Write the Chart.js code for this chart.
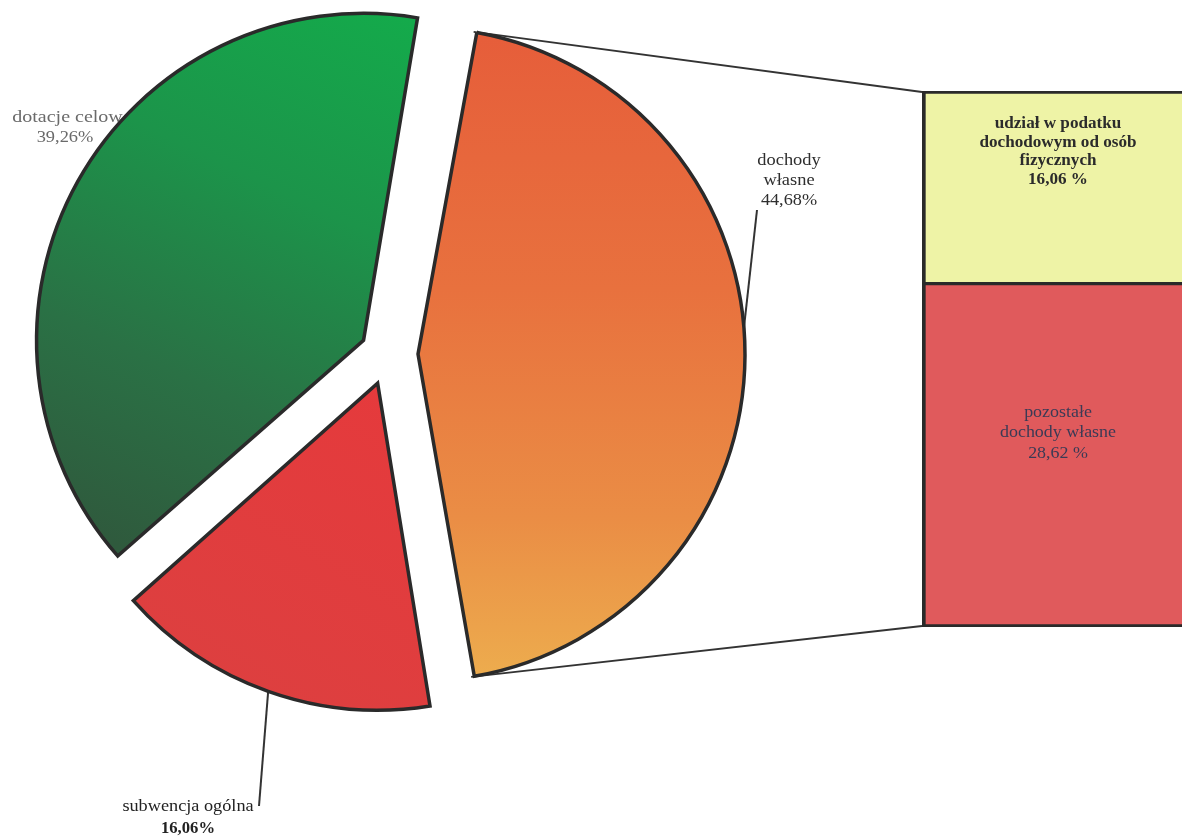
<!DOCTYPE html>
<html>
<head>
<meta charset="utf-8">
<script src="https://cdn.jsdelivr.net/npm/chart.js@4/dist/chart.umd.min.js"></script>
<style>
  html, body { margin: 0; padding: 0; background: #ffffff; overflow: hidden; }
  #wrap { position: relative; width: 1182px; height: 840px; overflow: hidden; background: #ffffff; }
  .layer { position: absolute; left: 0; top: 0; height: 840px; }
</style>
</head>
<body>
<div id="wrap">
  <div class="layer" style="width:1200px"><canvas id="barCanvas"></canvas></div>
  <div class="layer" style="width:1182px"><canvas id="pieCanvas"></canvas></div>
</div>
<script>
// ---------- data ----------
const pieCategories = ['dochody własne', 'subwencja ogólna', 'dotacje celowe'];
const pieValues = [44.68, 16.06, 39.26];
const pieValueTexts = ['44,68%', '16,06%', '39,26%'];
const pieLabelLines = [['dochody', 'własne'], ['subwencja ogólna'], ['dotacje celowe']];

const barCategories = ['pozostałe dochody własne', 'udział w podatku dochodowym od osób fizycznych'];
const barValues = [28.62, 16.06];
const barValueTexts = ['28,62 %', '16,06 %'];
const barLabelLines = [['pozostałe', 'dochody własne'], ['udział w podatku', 'dochodowym od osób', 'fizycznych']];

// ---------- styles ----------
const BORDER = '#2a2a2a';
const SERIF = '"Liberation Serif", "DejaVu Serif", serif';
const PIE_RADIUS = 327;

function sliceFill(context) {
  const chart = context.chart;
  const ca = chart.chartArea;
  const i = context.dataIndex;
  const flat = ['#e8763f', '#e13c3c', '#21864a'][i];
  if (!ca) return flat;
  const cx = (ca.left + ca.right) / 2, cy = (ca.top + ca.bottom) / 2, r = PIE_RADIUS;
  const c = chart.ctx;
  let g;
  if (i === 0) {
    g = c.createLinearGradient(cx, cy - r, cx, cy + r);
    g.addColorStop(0, '#e65d3a');
    g.addColorStop(0.4, '#e8713e');
    g.addColorStop(0.75, '#ea8d45');
    g.addColorStop(1, '#edad4e');
    return g;
  }
  if (i === 1) {
    g = c.createLinearGradient(cx, cy, cx - r * 0.6, cy + r);
    g.addColorStop(0, '#e53a3c');
    g.addColorStop(1, '#dc4040');
    return g;
  }
  g = c.createLinearGradient(cx + r * 0.1, cy - r, cx - r * 0.7, cy + r * 0.65);
  g.addColorStop(0, '#14aa4b');
  g.addColorStop(0.35, '#1c944a');
  g.addColorStop(0.7, '#2a7145');
  g.addColorStop(1, '#2f5a3d');
  return g;
}

// keep every exploded slice at the same radius (Chart.js grows offset slices)
function radiusGrowth(el) {
  const off = (el.options.offset || 0) / 4;
  return off * (1 - Math.sin(Math.min(Math.PI, el.circumference)));
}
const radiusFix = {
  id: 'radiusFix',
  afterDatasetsUpdate(chart) {
    chart.getDatasetMeta(0).data.forEach(el => {
      el.outerRadius = el.outerRadius - radiusGrowth(el);
    });
  }
};

// point on the drawn outer arc of a slice, frac 0..1 along the slice
function arcPoint(el, frac) {
  const half = (el.startAngle + el.endAngle) / 2;
  const t = (el.options.offset || 0) / 4;
  const r = el.outerRadius + radiusGrowth(el);
  const a = el.startAngle + (el.endAngle - el.startAngle) * frac;
  return {
    x: el.x + Math.cos(half) * t + Math.cos(a) * r,
    y: el.y + Math.sin(half) * t + Math.sin(a) * r
  };
}

function wideText(c, text, x, y, sx) {
  c.save();
  c.translate(x, y);
  c.scale(sx, 1);
  c.fillText(text, 0, 0);
  c.restore();
}

// ---------- bar (second level) ----------
const barTotal = barValues.reduce((a, b) => a + b, 0);
const barFills = ['#e05a5c', '#eef3a6'];
const barChart = new Chart(document.getElementById('barCanvas'), {
  type: 'bar',
  data: {
    labels: [''],
    datasets: barCategories.map((name, i) => ({
      label: name,
      data: [barValues[i]],
      backgroundColor: barFills[i],
      borderColor: BORDER,
      borderWidth: i === 0 ? { top: 2, left: 4, bottom: 3, right: 4 } : { top: 3, left: 4, bottom: 2, right: 4 },
      borderSkipped: false,
      barPercentage: 1,
      categoryPercentage: 1
    }))
  },
  options: {
    responsive: true,
    maintainAspectRatio: false,
    animation: false,
    layout: { padding: { left: 922, right: 6, top: 91, bottom: 213 } },
    scales: {
      x: { stacked: true, display: false },
      y: { stacked: true, display: false, min: 0, max: barTotal }
    },
    plugins: { legend: { display: false }, tooltip: { enabled: false } }
  },
  plugins: [{
    id: 'barText',
    afterDatasetsDraw(chart) {
      const c = chart.ctx;
      c.save();
      c.textAlign = 'center';
      c.textBaseline = 'middle';
      // top segment
      const topEl = chart.getDatasetMeta(1).data[0];
      c.font = 'bold 16px ' + SERIF;
      c.fillStyle = '#2b2b2b';
      const topLines = barLabelLines[1].concat([barValueTexts[1]]);
      topLines.forEach((t, k) => wideText(c, t, topEl.x, topEl.y + 33 + k * 18.5, 1.07));
      // bottom segment
      const botEl = chart.getDatasetMeta(0).data[0];
      c.font = '16px ' + SERIF;
      c.fillStyle = '#3b3a55';
      const botLines = barLabelLines[0].concat([barValueTexts[0]]);
      botLines.forEach((t, k) => wideText(c, t, botEl.x, botEl.y + 129 + k * 20.5, 1.12));
      c.restore();
    }
  }]
});

// ---------- pie ----------
const pieDecor = {
  id: 'pieDecor',
  beforeDatasetsDraw(chart) {
    const c = chart.ctx;
    const arcs = chart.getDatasetMeta(0).data;
    c.save();
    c.textAlign = 'center';
    c.textBaseline = 'middle';

    // dotacje celowe (partly hidden by its slice)
    c.font = '16px ' + SERIF;
    c.fillStyle = '#6a6a6a';
    wideText(c, pieLabelLines[2][0], 72, 118, 1.25);
    wideText(c, pieValueTexts[2], 65, 138, 1.15);

    // dochody własne
    c.fillStyle = '#2e2e2e';
    wideText(c, pieLabelLines[0][0], 789, 161, 1.15);
    wideText(c, pieLabelLines[0][1], 789, 181, 1.15);
    wideText(c, pieValueTexts[0], 789, 201, 1.14);

    // subwencja ogólna
    c.fillStyle = '#222222';
    wideText(c, pieLabelLines[1][0], 188, 807, 1.14);
    c.font = 'bold 16px ' + SERIF;
    wideText(c, pieValueTexts[1], 188, 829, 1.04);

    // leader lines
    c.strokeStyle = '#333333';
    c.lineWidth = 2;
    const p0 = arcPoint(arcs[0], 0.47);
    c.beginPath(); c.moveTo(p0.x, p0.y); c.lineTo(757, 210); c.stroke();
    const p1 = arcPoint(arcs[1], 0.5);
    c.beginPath(); c.moveTo(p1.x, p1.y); c.lineTo(259, 806); c.stroke();

    // connectors to the bar
    const topEl = barChart.getDatasetMeta(1).data[0];
    const botEl = barChart.getDatasetMeta(0).data[0];
    const left = topEl.x - topEl.width / 2;
    const s = arcPoint(arcs[0], 0);
    const e = arcPoint(arcs[0], 1);
    c.lineWidth = 1.8;
    c.beginPath(); c.moveTo(s.x, s.y); c.lineTo(left, topEl.y + 1); c.stroke();
    c.beginPath(); c.moveTo(e.x, e.y); c.lineTo(left, botEl.base - 1); c.stroke();
    c.restore();
  }
};

new Chart(document.getElementById('pieCanvas'), {
  type: 'pie',
  data: {
    labels: pieCategories,
    datasets: [{
      data: pieValues,
      backgroundColor: sliceFill,
      borderColor: BORDER,
      borderWidth: 3.5,
      borderJoinStyle: 'miter',
      offset: [120, 124, 112]
    }]
  },
  options: {
    responsive: true,
    maintainAspectRatio: false,
    animation: false,
    rotation: 9.8,
    radius: PIE_RADIUS,
    layout: { padding: { left: 0, top: 0, right: 406, bottom: 132 } },
    plugins: { legend: { display: false }, tooltip: { enabled: false } }
  },
  plugins: [radiusFix, pieDecor]
});
</script>
</body>
</html>
